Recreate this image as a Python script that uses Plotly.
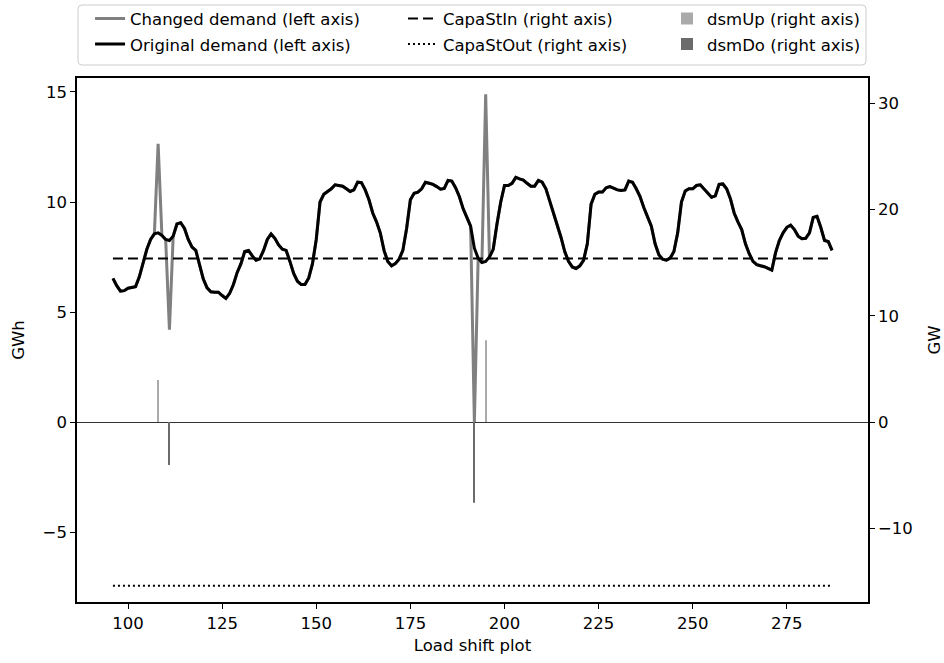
import plotly.graph_objects as go

# ---------------- data ----------------
hours = list(range(96, 288))

original_demand = [
    6.53, 6.20, 5.95, 5.97, 6.08, 6.12, 6.15, 6.60, 7.20, 7.85,   # 96-105
    8.30, 8.55, 8.60, 8.48, 8.30, 8.25, 8.45, 9.00, 9.06, 8.80,   # 106-115
    8.30, 7.95, 7.80, 7.10, 6.50, 6.10, 5.92, 5.90, 5.90, 5.75,   # 116-125
    5.62, 5.85, 6.25, 6.80, 7.20, 7.75, 7.80, 7.55, 7.35, 7.42,   # 126-135
    7.80, 8.30, 8.55, 8.35, 8.05, 7.85, 7.80, 7.30, 6.75, 6.40,   # 136-145
    6.25, 6.25, 6.55, 7.20, 8.30, 10.00, 10.35, 10.48, 10.60, 10.78,  # 146-155
    10.75, 10.72, 10.60, 10.48, 10.55, 10.90, 10.88, 10.55, 10.10, 9.50,  # 156-165
    9.10, 8.60, 7.80, 7.30, 7.10, 7.20, 7.40, 7.80, 8.80, 10.10,  # 166-175
    10.40, 10.45, 10.60, 10.90, 10.85, 10.80, 10.70, 10.58, 10.62, 10.98,  # 176-185
    10.95, 10.65, 10.25, 9.70, 9.30, 8.90, 7.90, 7.45, 7.25, 7.30,  # 186-195
    7.50, 7.85, 9.00, 10.00, 10.75, 10.75, 10.85, 11.12, 11.05, 11.00,  # 196-205
    10.85, 10.72, 10.72, 10.98, 10.90, 10.60, 10.05, 9.50, 9.00, 8.40,  # 206-215
    7.75, 7.30, 7.05, 6.98, 7.10, 7.35, 8.10, 9.90, 10.35, 10.45,  # 216-225
    10.45, 10.65, 10.70, 10.62, 10.55, 10.52, 10.55, 10.95, 10.90, 10.60,  # 226-235
    10.25, 9.75, 9.30, 8.90, 8.10, 7.60, 7.40, 7.36, 7.45, 7.75,  # 236-245
    8.60, 10.00, 10.50, 10.60, 10.60, 10.75, 10.78, 10.60, 10.40, 10.22,  # 246-255
    10.28, 10.80, 10.82, 10.60, 10.15, 9.50, 9.10, 8.75, 8.10, 7.65,  # 256-265
    7.30, 7.15, 7.10, 7.06, 6.98, 6.90, 7.70, 8.25, 8.60, 8.85,  # 266-275
    8.95, 8.75, 8.45, 8.33, 8.35, 8.60, 9.30, 9.35, 8.85, 8.25,  # 276-285
    8.20, 7.80,                                                  # 286-287
]

# hours where the changed demand differs from the original demand
shift_hours = [108, 111, 192, 195]
shift_values = [12.65, 4.20, 0.00, 14.90]

changed_demand = list(original_demand)
for h, v in zip(shift_hours, shift_values):
    changed_demand[h - hours[0]] = v

capa_st_in = 15.4     # GW
capa_st_out = -15.4   # GW

dsm_up_hours = [108, 195]
dsm_up_values = [3.95, 7.70]      # GW
dsm_do_hours = [111, 192]
dsm_do_values = [-4.05, -7.60]    # GW

# ---------------- figure ----------------
FONT = "DejaVu Sans"
FS = 16.5
fig = go.Figure()

fig.add_trace(go.Scatter(
    x=hours, y=changed_demand, mode="lines", name="Changed demand (left axis)",
    line=dict(color="#808080", width=3), legend="legend", yaxis="y"))
fig.add_trace(go.Scatter(
    x=hours, y=original_demand, mode="lines", name="Original demand (left axis)",
    line=dict(color="black", width=3), legend="legend", yaxis="y"))

fig.add_trace(go.Scatter(
    x=hours, y=[capa_st_in] * len(hours), mode="lines", name="CapaStIn (right axis)",
    line=dict(color="black", width=2, dash="10px,5px"), legend="legend2", yaxis="y2"))
fig.add_trace(go.Scatter(
    x=hours, y=[capa_st_out] * len(hours), mode="lines", name="CapaStOut (right axis)",
    line=dict(color="black", width=2, dash="2px,3px"), legend="legend2", yaxis="y2"))

fig.add_trace(go.Bar(
    x=dsm_up_hours, y=dsm_up_values, name="dsmUp (right axis)", width=0.28,
    marker=dict(color="#aaaaaa", line=dict(width=0)), legend="legend3", yaxis="y2"))
fig.add_trace(go.Bar(
    x=dsm_do_hours, y=dsm_do_values, name="dsmDo (right axis)", width=0.28,
    marker=dict(color="#6b6b6b", line=dict(width=0)), legend="legend3", yaxis="y2"))

axis_common = dict(
    showline=True, linecolor="black", linewidth=1.5, ticks="outside", ticklen=5,
    tickwidth=1.2, tickcolor="black", showgrid=False, automargin=False,
    tickfont=dict(family=FONT, size=FS, color="black"),
)

leg_common = dict(
    orientation="v", yanchor="top", xanchor="left", bgcolor="rgba(0,0,0,0)",
    borderwidth=0, font=dict(family=FONT, size=FS, color="black"),
    tracegroupgap=1, itemclick=False, itemdoubleclick=False, traceorder="grouped",
)

LEG_Y = 1.1462

# rounded legend frame (paper coordinates)
bx0, bx1, by0, by1 = 0.0013, 0.9975, 1.0248, 1.1393
rx, ry = 4 / 791, 4 / 524
frame_path = (
    f"M {bx0 + rx},{by1} L {bx1 - rx},{by1} Q {bx1},{by1} {bx1},{by1 - ry} "
    f"L {bx1},{by0 + ry} Q {bx1},{by0} {bx1 - rx},{by0} "
    f"L {bx0 + rx},{by0} Q {bx0},{by0} {bx0},{by0 + ry} "
    f"L {bx0},{by1 - ry} Q {bx0},{by1} {bx0 + rx},{by1} Z"
)

fig.update_layout(
    width=944, height=663,
    margin=dict(l=77, r=76, t=78, b=61, autoexpand=False),
    paper_bgcolor="white", plot_bgcolor="white",
    font=dict(family=FONT, size=FS, color="black"),
    barmode="overlay",
    xaxis=dict(
        **axis_common, mirror=True, range=[86.45, 296.55],
        tickvals=[100, 125, 150, 175, 200, 225, 250, 275],
        title=dict(text="Load shift plot", font=dict(family=FONT, size=FS), standoff=8),
        zeroline=False,
    ),
    yaxis=dict(
        **axis_common, range=[-8.18, 15.636], tickvals=[-5, 0, 5, 10, 15],
        title=dict(text="GWh", font=dict(family=FONT, size=FS), standoff=14),
        zeroline=True, zerolinecolor="#333333", zerolinewidth=1.2,
    ),
    yaxis2=dict(
        **axis_common, overlaying="y", side="right", range=[-16.94, 32.38],
        tickvals=[-10, 0, 10, 20, 30],
        title=dict(text="GW", font=dict(family=FONT, size=FS), standoff=22),
        zeroline=False,
    ),
    legend=dict(**leg_common, x=0.0165, y=LEG_Y),
    legend2=dict(**leg_common, x=0.4121, y=LEG_Y),
    legend3=dict(**leg_common, x=0.7459, y=LEG_Y),
    showlegend=True,
    shapes=[dict(
        type="path", xref="paper", yref="paper", path=frame_path,
        line=dict(color="#cccccc", width=1), fillcolor="rgba(0,0,0,0)", layer="below",
    )],
)

# separate legend groups so the group gap controls row spacing
for i, tr in enumerate(fig.data):
    tr.legendgroup = f"g{i}"

fig.write_html("out.html")
